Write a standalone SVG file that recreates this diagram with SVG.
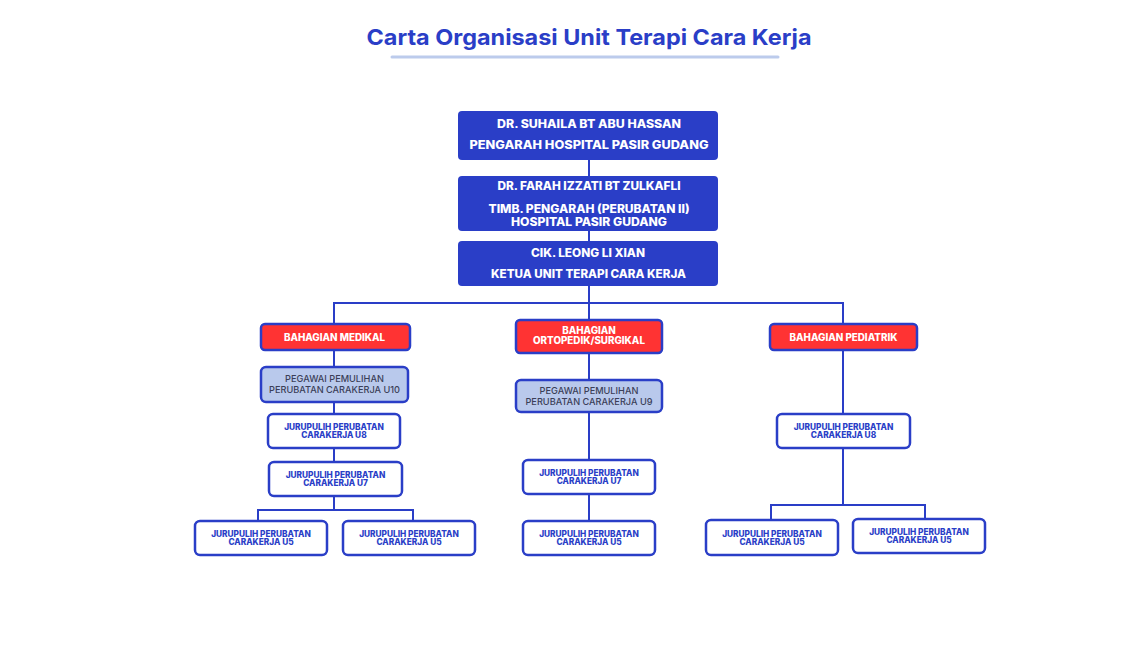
<svg xmlns="http://www.w3.org/2000/svg" width="1146" height="650" viewBox="0 0 1146 650">
<style>
.t{font-family:Inter,"Liberation Sans",sans-serif;text-anchor:middle}
.top rect{fill:#2a3ec7;stroke:none}
.top text{fill:#fff;font-weight:800;font-size:11.5px}
.dept rect{fill:#ff3333;stroke:#2a3ec7;stroke-width:2.5}
.dept text{fill:#fff;font-weight:800;font-size:9.8px}
.peg rect{fill:#b9c9ec;stroke:#2a3ec7;stroke-width:2.5}
.peg text{fill:#3b3f58;font-weight:500;font-size:9.2px}
.jr rect{fill:#fff;stroke:#2a3ec7;stroke-width:2.5}
.jr text{fill:#2a3ec7;font-weight:800;font-size:8.3px}
#connectors path{fill:none;stroke:#2a3ec7;stroke-width:2}
</style>
<rect width="1146" height="650" fill="#fff"/>
<g id="title">
<text class="t" x="589" y="45" font-size="22" font-weight="700" fill="#2a3ec7" textLength="445" lengthAdjust="spacingAndGlyphs">Carta Organisasi Unit Terapi Cara Kerja</text>
<line x1="392" y1="57" x2="778" y2="57" stroke="#bccbec" stroke-width="3" stroke-linecap="round"/>
</g>
<g id="connectors">
<path d="M589 160V176M589 231V241M589 286V320"/>
<path d="M334 324V303H843V324"/>
<path d="M334 350V367M334 402V414M334 448V462M334 496V510M258 521V510H413V521"/>
<path d="M589 353V380M589 412V460M589 494V521"/>
<path d="M843 350V414M843 448V505M771 520V505H925V519"/>
</g>
<g id="n1" class="top"><rect x="458" y="111" width="260" height="49" rx="4"/>
<text class="t" x="589" y="128" textLength="184" lengthAdjust="spacingAndGlyphs">DR. SUHAILA BT ABU HASSAN</text>
<text class="t" x="589" y="149" textLength="239" lengthAdjust="spacingAndGlyphs">PENGARAH HOSPITAL PASIR GUDANG</text></g>
<g id="n2" class="top"><rect x="458" y="176" width="260" height="55" rx="4"/>
<text class="t" x="589" y="190" textLength="183" lengthAdjust="spacingAndGlyphs">DR. FARAH IZZATI BT ZULKAFLI</text>
<text class="t" x="589" y="213" textLength="201" lengthAdjust="spacingAndGlyphs">TIMB. PENGARAH (PERUBATAN II)</text>
<text class="t" x="589" y="226" textLength="156" lengthAdjust="spacingAndGlyphs">HOSPITAL PASIR GUDANG</text></g>
<g id="n3" class="top"><rect x="458" y="241" width="260" height="45" rx="4"/>
<text class="t" x="588" y="257" textLength="114" lengthAdjust="spacingAndGlyphs">CIK. LEONG LI XIAN</text>
<text class="t" x="588.5" y="278" textLength="195" lengthAdjust="spacingAndGlyphs">KETUA UNIT TERAPI CARA KERJA</text></g>
<g id="d1" class="dept"><rect x="261" y="324" width="149" height="26" rx="4"/>
<text class="t" x="334.5" y="340.5">BAHAGIAN MEDIKAL</text></g>
<g id="d2" class="dept"><rect x="516" y="320" width="146" height="33" rx="4"/>
<text class="t" x="589" y="334">BAHAGIAN</text>
<text class="t" x="589" y="344">ORTOPEDIK/SURGIKAL</text></g>
<g id="d3" class="dept"><rect x="770" y="324" width="147" height="26" rx="4"/>
<text class="t" x="843.5" y="340.5">BAHAGIAN PEDIATRIK</text></g>
<g id="p1" class="peg"><rect x="261" y="367" width="147" height="35" rx="5"/>
<text class="t" x="334.5" y="382">PEGAWAI PEMULIHAN</text>
<text class="t" x="334.5" y="393">PERUBATAN CARAKERJA U10</text></g>
<g id="p2" class="peg"><rect x="516" y="380" width="146" height="32" rx="5"/>
<text class="t" x="589" y="394">PEGAWAI PEMULIHAN</text>
<text class="t" x="589" y="405">PERUBATAN CARAKERJA U9</text></g>
<g id="j1" class="jr"><rect x="268" y="414" width="132" height="34" rx="5"/>
<text class="t" x="334" y="429.5">JURUPULIH PERUBATAN</text>
<text class="t" x="334" y="437.5">CARAKERJA U8</text></g>
<g id="j2" class="jr"><rect x="269" y="462" width="133" height="34" rx="5"/>
<text class="t" x="335.5" y="477.5">JURUPULIH PERUBATAN</text>
<text class="t" x="335.5" y="485.5">CARAKERJA U7</text></g>
<g id="j3" class="jr"><rect x="195" y="521" width="132" height="34" rx="5"/>
<text class="t" x="261" y="536.5">JURUPULIH PERUBATAN</text>
<text class="t" x="261" y="544.5">CARAKERJA U5</text></g>
<g id="j4" class="jr"><rect x="343" y="521" width="132" height="34" rx="5"/>
<text class="t" x="409" y="536.5">JURUPULIH PERUBATAN</text>
<text class="t" x="409" y="544.5">CARAKERJA U5</text></g>
<g id="j5" class="jr"><rect x="523" y="460" width="132" height="34" rx="5"/>
<text class="t" x="589" y="475.5">JURUPULIH PERUBATAN</text>
<text class="t" x="589" y="483.5">CARAKERJA U7</text></g>
<g id="j6" class="jr"><rect x="523" y="521" width="132" height="34" rx="5"/>
<text class="t" x="589" y="536.5">JURUPULIH PERUBATAN</text>
<text class="t" x="589" y="544.5">CARAKERJA U5</text></g>
<g id="j7" class="jr"><rect x="777" y="414" width="133" height="34" rx="5"/>
<text class="t" x="843.5" y="429.5">JURUPULIH PERUBATAN</text>
<text class="t" x="843.5" y="437.5">CARAKERJA U8</text></g>
<g id="j8" class="jr"><rect x="706" y="520" width="132" height="35" rx="5"/>
<text class="t" x="772" y="536.5">JURUPULIH PERUBATAN</text>
<text class="t" x="772" y="544.5">CARAKERJA U5</text></g>
<g id="j9" class="jr"><rect x="853" y="519" width="132" height="34" rx="5"/>
<text class="t" x="919" y="534.5">JURUPULIH PERUBATAN</text>
<text class="t" x="919" y="542.5">CARAKERJA U5</text></g>
</svg>
